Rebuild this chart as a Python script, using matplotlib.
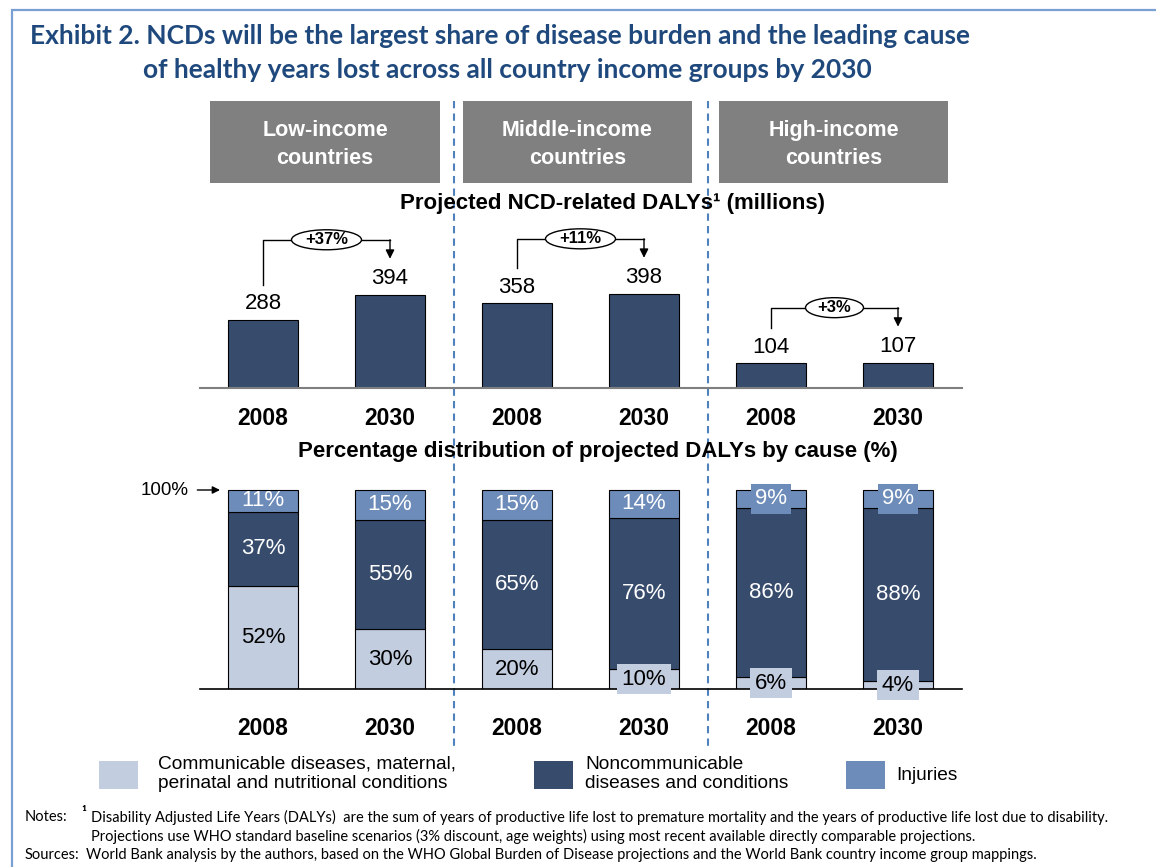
import numpy as np
import matplotlib
matplotlib.use("Agg")
import matplotlib.pyplot as plt
from matplotlib.patches import Rectangle, Ellipse

plt.rcParams['font.family'] = ['Liberation Sans', 'DejaVu Sans']

groups = ["Low-income\ncountries", "Middle-income\ncountries", "High-income\ncountries"]
years = ["2008", "2030", "2008", "2030", "2008", "2030"]
dalys = [288, 394, 358, 398, 104, 107]
growth = ["+37%", "+11%", "+3%"]

communicable = [52, 30, 20, 10, 6, 4]
noncommunicable = [37, 55, 65, 76, 86, 88]
injuries = [11, 15, 15, 14, 9, 9]

series_names = ["Communicable diseases, maternal,\nperinatal and nutritional conditions",
                "Noncommunicable\ndiseases and conditions",
                "Injuries"]
colors = ["#C3CDE0", "#374C6D", "#6D8CBA"]
text_colors = ["black", "white", "white"]

title_lines = ["Exhibit 2. NCDs will be the largest share of disease burden and the leading cause",
               "of healthy years lost across all country income groups by 2030"]
top_title = "Projected NCD-related DALYs\u00b9 (millions)"
bottom_title = "Percentage distribution of projected DALYs by cause (%)"

W, H = 1156, 867
CALIBRI = ['Lato', 'DejaVu Sans']
TITLE_BLUE = "#1F497D"
SEP_BLUE = "#4F81BD"


def px_rect(left, top, right, bottom):
    return [left / W, 1 - bottom / H, (right - left) / W, (bottom - top) / H]


fig = plt.figure(figsize=(W / 100, H / 100), dpi=100)

# overlay in pixel coordinates for the page furniture
ov = fig.add_axes([0, 0, 1, 1])
ov.set_xlim(0, W)
ov.set_ylim(H, 0)
ov.axis('off')

ov.plot([12, 12, W], [H, 10, 10], color="#7A9FD2", lw=1.6, solid_joinstyle='miter')

ov.text(500, 36, title_lines[0], ha='center', va='center', fontsize=19,
        weight='bold', color=TITLE_BLUE, family=CALIBRI)
ov.text(507, 70, title_lines[1], ha='center', va='center', fontsize=19,
        weight='bold', color=TITLE_BLUE, family=CALIBRI)

boxes = [(210, 440), (463, 692), (719, 948)]
for (x0, x1), name in zip(boxes, groups):
    ov.add_patch(Rectangle((x0, 101), x1 - x0, 82, fc="#808080", ec='none'))
    ov.text((x0 + x1) / 2, 144.5, name, ha='center', va='center', color='white',
            fontsize=15.5, weight='bold', linespacing=1.45)

for xs in (454, 708):
    ov.plot([xs, xs], [101, 748], color=SEP_BLUE, lw=1.5, ls=(0, (3.5, 2.5)))

ov.text(612, 203, top_title, ha='center', va='center', fontsize=16, weight='bold')
ov.text(598, 451, bottom_title, ha='center', va='center', fontsize=16, weight='bold')

x = np.arange(len(dalys))
bar_w = 0.55
xlim = (-(263 - 200) / 127, (962 - 263) / 127)

# top panel: NCD DALYs
ax1 = fig.add_axes(px_rect(200, 220, 962, 388))
ax1.patch.set_alpha(0)
top = 710
ax1.set_ylim(0, top)
ax1.set_xlim(*xlim)
ax1.bar(x, dalys, width=bar_w, color=colors[1], edgecolor='black', lw=0.8, zorder=2)
for xi, v in zip(x, dalys):
    ax1.annotate(str(v), (xi, v), xytext=(0, 11.5), textcoords='offset points',
                 ha='center', va='center', fontsize=16)

upp = top / 168.0
for g, lab in enumerate(growth):
    i0, i1 = 2 * g, 2 * g + 1
    c0 = dalys[i0] + 15 * upp
    c1 = dalys[i1] + 15 * upp
    yh = max(c0, c1) + 40 * upp
    ax1.plot([i0, i0, i1], [c0 + 20 * upp, yh, yh], color='black', lw=1, clip_on=False)
    ax1.annotate('', xy=(i1, c1 + 21 * upp), xytext=(i1, yh),
                 arrowprops=dict(arrowstyle='-|>', color='black', lw=1,
                                 shrinkA=0, shrinkB=0, mutation_scale=13),
                 annotation_clip=False)
    ew = (12 * len(lab) + 22) / 127
    ax1.add_patch(Ellipse(((i0 + i1) / 2, yh), ew, 20 * upp, fc='white',
                          ec='black', lw=1, zorder=3, clip_on=False))
    ax1.text((i0 + i1) / 2, yh, lab, ha='center', va='center', fontsize=12,
             weight='bold', zorder=4)

ax1.set_xticks(x, years, fontsize=16.5, weight='bold')
ax1.tick_params(axis='x', length=0, pad=13.5)
ax1.set_yticks([])
for s in ('left', 'right', 'top'):
    ax1.spines[s].set_visible(False)
ax1.spines['bottom'].set_color('#7F7F7F')
ax1.spines['bottom'].set_linewidth(1.5)

# bottom panel: share of DALYs by cause
ax2 = fig.add_axes(px_rect(200, 470, 962, 689))
ax2.patch.set_alpha(0)
ax2.set_ylim(0, 219 / 1.99)
ax2.set_xlim(*xlim)

vals = np.array([communicable, noncommunicable, injuries], dtype=float)
shares = vals / vals.sum(axis=0) * 100
bottom = np.zeros(len(x))
for k in range(3):
    ax2.bar(x, shares[k], bottom=bottom, width=bar_w, color=colors[k],
            edgecolor='black', lw=0.8, zorder=2)
    for xi, b, h, v in zip(x, bottom, shares[k], vals[k]):
        box = None
        if v <= 10:
            box = dict(boxstyle='square,pad=0.2', fc=colors[k], ec='none')
        ax2.text(xi, b + h / 2, f"{int(v)}%", ha='center', va='center',
                 fontsize=16, color=text_colors[k], bbox=box, zorder=4)
    bottom += shares[k]

ax2.annotate('100%', xy=((220 - 263) / 127, 100), xytext=((189 - 263) / 127, 100),
             ha='right', va='center', fontsize=13.5,
             arrowprops=dict(arrowstyle='-|>', color='black', lw=1,
                             shrinkA=4, shrinkB=0, mutation_scale=11),
             annotation_clip=False)

ax2.set_xticks(x, years, fontsize=16.5, weight='bold')
ax2.tick_params(axis='x', length=0, pad=20.5)
ax2.set_yticks([])
for s in ('left', 'right', 'top'):
    ax2.spines[s].set_visible(False)
ax2.spines['bottom'].set_linewidth(1.2)

# legend
legend_pos = [(99, 158), (534, 585), (846, 896)]
for (sx, tx), name, c in zip(legend_pos, series_names, colors):
    ty = 774 if "\n" in name else 776
    ov.add_patch(Rectangle((sx, 761), 39, 28, fc=c, ec='none'))
    ov.text(tx, ty, name, ha='left', va='center', fontsize=13.8, linespacing=1.18)

# notes
NF = 10.5
ov.text(25, 817, "Notes:", ha='left', va='center', fontsize=NF, family=CALIBRI)
ov.text(81, 814, "\u00b9", ha='left', va='center', fontsize=NF, weight='bold', family=CALIBRI)
ov.text(91, 817, "Disability Adjusted Life Years (DALYs)  are the sum of years of productive life "
        "lost to premature mortality and the years of productive life lost due to disability.",
        ha='left', va='center', fontsize=NF, family=CALIBRI)
ov.text(91, 836, "Projections use WHO standard baseline scenarios (3% discount, age weights) using "
        "most recent available directly comparable projections.",
        ha='left', va='center', fontsize=NF, family=CALIBRI)
ov.text(25, 855, "Sources:", ha='left', va='center', fontsize=NF, family=CALIBRI)
ov.text(86, 855, "World Bank analysis by the authors, based on the WHO Global Burden of Disease "
        "projections and the World Bank country income group mappings.",
        ha='left', va='center', fontsize=NF, family=CALIBRI)

fig.savefig("out.png", dpi=100)
